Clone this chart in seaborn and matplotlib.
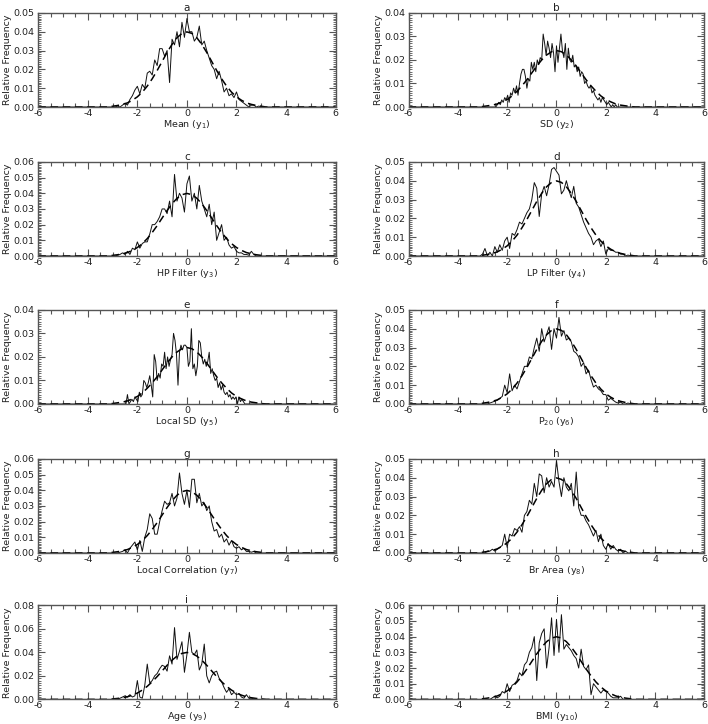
import matplotlib
matplotlib.use("Agg")
import matplotlib.pyplot as plt
import numpy as np
import seaborn as sns
from matplotlib.ticker import MultipleLocator, FormatStrFormatter

# observed relative frequency, bins of 0.1 from -3.0 to 3.0
obs_a = [0, 0, 0.0005, 0, 0.001, 0.002, 0.001, 0.004, 0.006, 0.009, 0.011, 0.007, 0.012, 0.010, 0.018, 0.019,
         0.017, 0.025, 0.022, 0.031, 0.031, 0.027, 0.030, 0.013, 0.036, 0.033, 0.040, 0.032, 0.045, 0.037, 0.047,
         0.040, 0.040, 0.035, 0.037, 0.043, 0.033, 0.035, 0.030, 0.026, 0.022, 0.020, 0.015, 0.019, 0.014, 0.008,
         0.010, 0.006, 0.007, 0.005, 0.008, 0.004, 0.003, 0.002, 0.001, 0, 0.001, 0.001, 0, 0.0005, 0]
obs_c = [0, 0, 0.0005, 0.001, 0.002, 0.001, 0.003, 0.001, 0.005, 0.004, 0.009, 0.005, 0.008, 0.009, 0.009, 0.014,
         0.020, 0.020, 0.022, 0.025, 0.030, 0.030, 0.027, 0.035, 0.025, 0.052, 0.035, 0.040, 0.037, 0.028, 0.046,
         0.051, 0.035, 0.040, 0.030, 0.045, 0.035, 0.030, 0.025, 0.033, 0.020, 0.028, 0.010, 0.015, 0.020, 0.010,
         0.012, 0.007, 0.005, 0.006, 0.003, 0.002, 0.002, 0.001, 0.001, 0.0005, 0.003, 0.001, 0, 0, 0]
obs_d = [0.001, 0.004, 0, 0.002, 0, 0.005, 0.002, 0.006, 0.003, 0.008, 0.010, 0.004, 0.012, 0.011, 0.014, 0.018,
         0.017, 0.020, 0.023, 0.025, 0.030, 0.039, 0.036, 0.021, 0.033, 0.037, 0.032, 0.038, 0.046, 0.047, 0.045,
         0.043, 0.033, 0.035, 0.040, 0.035, 0.031, 0.037, 0.028, 0.026, 0.022, 0.018, 0.015, 0.012, 0.010, 0.006,
         0.008, 0.009, 0.005, 0.008, 0.001, 0.004, 0.003, 0.003, 0.002, 0.002, 0.001, 0.001, 0, 0.0005, 0]
obs_f = [0, 0, 0, 0.0005, 0.001, 0.0015, 0.002, 0.003, 0.004, 0.010, 0.006, 0.016, 0.007, 0.010, 0.008, 0.012,
         0.016, 0.020, 0.020, 0.025, 0.024, 0.030, 0.035, 0.028, 0.040, 0.033, 0.037, 0.041, 0.029, 0.040, 0.035,
         0.046, 0.036, 0.039, 0.034, 0.035, 0.033, 0.028, 0.027, 0.025, 0.020, 0.022, 0.016, 0.018, 0.013, 0.009,
         0.010, 0.008, 0.007, 0.005, 0.005, 0.002, 0.003, 0.002, 0.001, 0.0005, 0.001, 0, 0, 0.0005, 0]
obs_g = [0, 0, 0, 0.0005, 0.001, 0.002, 0, 0.003, 0.005, 0.007, 0.002, 0.008, 0.001, 0.010, 0.015, 0.025,
         0.022, 0.012, 0.012, 0.020, 0.027, 0.033, 0.031, 0.032, 0.038, 0.030, 0.035, 0.051, 0.038, 0.031, 0.040,
         0.029, 0.047, 0.047, 0.032, 0.038, 0.030, 0.032, 0.027, 0.030, 0.020, 0.014, 0.015, 0.010, 0.012, 0.007,
         0.009, 0.005, 0.008, 0.004, 0.003, 0.004, 0.002, 0.003, 0.001, 0.001, 0.0005, 0.001, 0, 0, 0]
obs_h = [0, 0, 0.001, 0.001, 0.002, 0.001, 0.002, 0.003, 0.004, 0.010, 0.003, 0.010, 0.009, 0.013, 0.012, 0.014,
         0.011, 0.020, 0.022, 0.028, 0.026, 0.037, 0.030, 0.042, 0.041, 0.032, 0.040, 0.035, 0.038, 0.035, 0.049,
         0.038, 0.030, 0.040, 0.035, 0.033, 0.037, 0.025, 0.043, 0.024, 0.020, 0.020, 0.017, 0.015, 0.012, 0.009,
         0.012, 0.006, 0.010, 0.004, 0.002, 0.005, 0.002, 0.004, 0.002, 0.001, 0.002, 0, 0.001, 0, 0]
obs_i = [0, 0, 0, 0.001, 0.002, 0.003, 0.002, 0.004, 0.002, 0.003, 0.016, 0.002, 0.001, 0.012, 0.030, 0.014,
         0.016, 0.020, 0.022, 0.026, 0.029, 0.028, 0.024, 0.037, 0.030, 0.061, 0.034, 0.041, 0.049, 0.023, 0.038,
         0.057, 0.040, 0.038, 0.042, 0.025, 0.030, 0.047, 0.020, 0.014, 0.020, 0.023, 0.024, 0.018, 0.015, 0.010,
         0.006, 0.009, 0.004, 0.006, 0.004, 0.005, 0.002, 0.001, 0.004, 0.001, 0.001, 0.0005, 0, 0, 0]
obs_j = [0, 0, 0, 0, 0.001, 0.002, 0.001, 0.002, 0.005, 0.004, 0.010, 0.005, 0.009, 0.010, 0.012, 0.017,
         0.015, 0.022, 0.024, 0.030, 0.033, 0.040, 0.012, 0.036, 0.042, 0.045, 0.020, 0.033, 0.052, 0.028, 0.051,
         0.030, 0.054, 0.032, 0.035, 0.033, 0.031, 0.028, 0.026, 0.020, 0.032, 0.021, 0.019, 0.022, 0.003, 0.010,
         0.008, 0.006, 0.004, 0.006, 0.005, 0.004, 0.002, 0.001, 0.001, 0.001, 0.002, 0, 0, 0, 0]

# observed relative frequency, bins of 0.06 from -2.4 to 2.4
obs_b = [0.001, 0.002, 0.001, 0.003, 0.002, 0.004, 0.003, 0.005, 0.002, 0.006, 0.005, 0.008, 0.006, 0.009,
         0.005, 0.010, 0.014, 0.016, 0.016, 0.013, 0.008, 0.012, 0.011, 0.019, 0.016, 0.019, 0.015, 0.020,
         0.018, 0.021, 0.020, 0.031, 0.027, 0.022, 0.028, 0.025, 0.021, 0.027, 0.023, 0.015, 0.026, 0.019,
         0.025, 0.031, 0.024, 0.021, 0.027, 0.016, 0.025, 0.020, 0.019, 0.022, 0.017, 0.018, 0.015, 0.017,
         0.013, 0.015, 0.014, 0.010, 0.011, 0.009, 0.008, 0.009, 0.006, 0.007, 0.005, 0.004, 0.003, 0.004,
         0.002, 0.004, 0.003, 0.002, 0.001, 0.002, 0.001, 0, 0.001, 0, 0.001]
obs_e = [0.004, 0, 0.001, 0.002, 0.001, 0.003, 0.002, 0.001, 0.005, 0.003, 0.004, 0.010, 0.009, 0.007,
         0.009, 0.012, 0.008, 0.003, 0.021, 0.018, 0.010, 0.013, 0.011, 0.017, 0.016, 0.022, 0.015, 0.020,
         0.016, 0.019, 0.021, 0.030, 0.027, 0.021, 0.008, 0.022, 0.025, 0.023, 0.025, 0.025, 0.024, 0.016,
         0.018, 0.032, 0.015, 0.017, 0.012, 0.016, 0.027, 0.026, 0.020, 0.017, 0.019, 0.016, 0.018, 0.022,
         0.013, 0.015, 0.012, 0.010, 0.011, 0.007, 0.009, 0.006, 0.008, 0.005, 0.004, 0.005, 0.003, 0.004,
         0.002, 0.003, 0.002, 0.003, 0, 0.003, 0.001, 0.002, 0.001, 0, 0]

# expected normal frequency, read every 0.2 from -3 to 3
expected_01 = [0.0004, 0.0008, 0.0014, 0.0022, 0.0036, 0.0054, 0.0079, 0.0111, 0.0150, 0.0194, 0.0242,
               0.0290, 0.0333, 0.0368, 0.0391, 0.0399, 0.0391, 0.0368, 0.0333, 0.0290, 0.0242, 0.0194,
               0.0150, 0.0111, 0.0079, 0.0054, 0.0036, 0.0022, 0.0014, 0.0008, 0.0004]
expected_006 = [0.0002, 0.0005, 0.0008, 0.0013, 0.0022, 0.0032, 0.0047, 0.0067, 0.0090, 0.0116, 0.0145,
                0.0174, 0.0200, 0.0221, 0.0235, 0.0240, 0.0235, 0.0221, 0.0200, 0.0174, 0.0145, 0.0116,
                0.0090, 0.0067, 0.0047, 0.0032, 0.0022, 0.0013, 0.0008, 0.0005, 0.0002]

letters = ["a", "b", "c", "d", "e", "f", "g", "h", "i", "j"]
xlabels = ["Mean ($\\mathregular{y_1}$)", "SD ($\\mathregular{y_2}$)",
           "HP Filter ($\\mathregular{y_3}$)", "LP Filter ($\\mathregular{y_4}$)",
           "Local SD ($\\mathregular{y_5}$)", "$\\mathregular{P_{20}}$ ($\\mathregular{y_6}$)",
           "Local Correlation ($\\mathregular{y_7}$)", "Br Area ($\\mathregular{y_8}$)",
           "Age ($\\mathregular{y_9}$)", "BMI ($\\mathregular{y_{10}}$)"]
ymaxes = [0.05, 0.04, 0.06, 0.05, 0.04, 0.05, 0.06, 0.05, 0.08, 0.06]
observed = [obs_a, obs_b, obs_c, obs_d, obs_e, obs_f, obs_g, obs_h, obs_i, obs_j]

sns.set_style("ticks")
plt.rcParams["font.family"] = ["DejaVu Sans"]
plt.rcParams["axes.unicode_minus"] = False
plt.rcParams["text.color"] = "#222222"
plt.rcParams["axes.labelcolor"] = "#222222"

fig = plt.figure(figsize=(7.08, 7.24), dpi=100)
row_bottoms = [0.8522, 0.6464, 0.4420, 0.2362, 0.0340]
col_lefts = [0.054, 0.577]
col_widths = [0.420, 0.418]

x_exp = np.round(np.linspace(-6, 6, 61), 2)

for k in range(10):
    r, c = divmod(k, 2)
    ax = fig.add_axes([col_lefts[c], row_bottoms[r], col_widths[c], 0.1300])
    obs = observed[k]
    if len(obs) == 61:
        x_obs = np.round(np.linspace(-6, 6, 121), 2)
        y_obs = np.pad(obs, 30)
        y_exp = np.pad(expected_01, 15)
    else:
        x_obs = np.round(np.linspace(-6, 6, 201), 2)
        y_obs = np.pad(obs, 60)
        y_exp = np.pad(expected_006, 15)
    sns.lineplot(x=x_obs, y=y_obs, ax=ax, color="#111111", lw=0.7)
    sns.lineplot(x=x_exp, y=y_exp, ax=ax, color="black", lw=1.1, linestyle=(0, (5, 3)))
    ax.set_xlim(-6, 6)
    ax.set_ylim(0, ymaxes[k])
    ax.xaxis.set_major_locator(MultipleLocator(2))
    ax.xaxis.set_minor_locator(MultipleLocator(0.5))
    ax.yaxis.set_major_locator(MultipleLocator(0.02 if ymaxes[k] == 0.08 else 0.01))
    ax.yaxis.set_minor_locator(MultipleLocator(0.002 if ymaxes[k] == 0.08 else 0.001))
    ax.yaxis.set_major_formatter(FormatStrFormatter("%.2f"))
    ax.tick_params(which="both", direction="in", bottom=True, left=True, top=True, right=True,
                   labelsize=6.8, color="#555555", labelcolor="#222222")
    ax.tick_params(axis="x", pad=1.5)
    ax.tick_params(axis="y", pad=2.5)
    ax.tick_params(which="major", length=5, width=0.8)
    ax.tick_params(axis="x", which="minor", length=3, width=0.8)
    ax.tick_params(axis="y", which="minor", length=2, width=0.6)
    for s in ax.spines.values():
        s.set_color("#555555")
        s.set_linewidth(1.0)
    ax.set_title(letters[k], fontsize=7.5, pad=1.5)
    ax.set_xlabel(xlabels[k], fontsize=6.8, labelpad=0)
    ax.set_ylabel("Relative Frequency", fontsize=6.8, labelpad=1)

fig.savefig("out.png", dpi=100)
